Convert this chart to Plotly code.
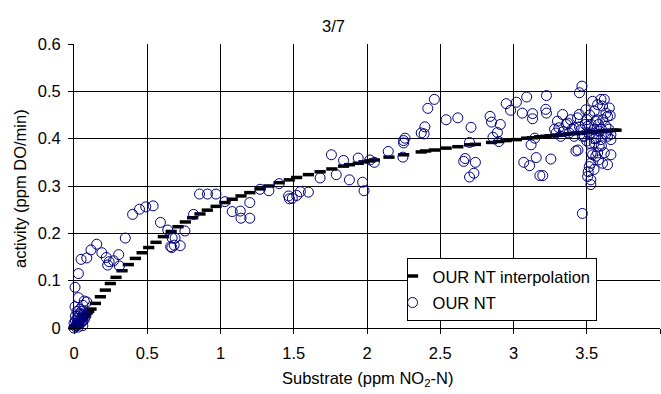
import plotly.graph_objects as go

# Measured data "OUR NT" (substrate ppm NO2-N, activity ppm DO/min)
our_x = [
    0.00, 0.01, 0.02, 0.03, 0.04, 0.05, 0.06, 0.07, 0.01, 0.02, 0.03, 0.04, 0.05,
    0.06, 0.00, 0.02, 0.04, 0.06, 0.08, 0.01, 0.03, 0.05, 0.07, 0.02, 0.04,
    0.007, 0.03, 0.07, 0.087, 0.06, 0.007, 0.03,
    0.048, 0.087, 0.116, 0.155, 0.19, 0.22, 0.24, 0.27, 0.23, 0.305, 0.31, 0.35,
    0.40, 0.447, 0.49, 0.54, 0.59, 0.64, 0.67, 0.66,
    0.69, 0.684, 0.725, 0.668, 0.757, 0.816, 0.857, 0.911, 0.969, 1.03,
    1.08, 1.135, 1.14, 1.20, 1.20, 1.27, 1.33, 1.40,
    1.465, 1.47, 1.52, 1.545, 1.60, 1.49, 1.68, 1.757, 1.84, 1.79, 1.88, 1.94,
    1.97, 1.98, 2.02, 2.05, 2.145, 2.245, 2.25, 2.26, 2.25, 2.37,
    2.46, 2.415, 2.395, 2.39, 2.54, 2.62, 2.71, 2.70, 2.67, 2.66, 2.74, 2.73, 2.70,
    2.84, 2.85, 2.91, 2.89, 2.86, 2.90, 2.95, 2.98, 3.02, 3.09, 3.06, 3.13, 3.13,
    3.145, 3.12, 3.07, 3.11, 3.155, 3.18,
    3.467, 3.45, 3.225, 3.22, 3.225, 3.255, 3.20, 3.47, 3.426, 3.44,
    3.30, 3.335, 3.29, 3.323, 3.31, 3.37, 3.38, 3.414, 3.437, 3.448, 3.414, 3.46,
    3.494, 3.506, 3.517, 3.54, 3.551, 3.562, 3.574, 3.585, 3.597, 3.608, 3.62,
    3.631, 3.642, 3.654, 3.66, 3.665, 3.642, 3.597, 3.562, 3.528, 3.551, 3.585,
    3.574, 3.54, 3.562, 3.62, 3.665, 3.608, 3.642, 3.528, 3.517, 3.506, 3.528,
    3.528, 3.483, 3.665, 3.631,
    3.28, 3.34, 3.36, 3.39, 3.40, 3.45, 3.47, 3.49, 3.50, 3.52, 3.53, 3.55, 3.57,
    3.58, 3.60, 3.61, 3.63, 3.65, 3.55, 3.52, 3.50, 3.53, 3.60, 3.58, 3.55, 3.51,
]
our_y = [
    0.000, 0.003, 0.005, 0.008, 0.010, 0.012, 0.015, 0.018, 0.015, 0.020, 0.025,
    0.030, 0.022, 0.028, 0.010, 0.010, 0.018, 0.005, 0.025, 0.025, 0.002, 0.035,
    0.032, 0.035, 0.040,
    0.086, 0.064, 0.057, 0.055, 0.048, 0.045, 0.115,
    0.145, 0.148, 0.165, 0.177, 0.159, 0.149, 0.140, 0.142, 0.133, 0.155, 0.131,
    0.190, 0.240, 0.251, 0.256, 0.258, 0.223, 0.207, 0.190, 0.172,
    0.190, 0.175, 0.174, 0.170, 0.205, 0.240, 0.283, 0.283, 0.283, 0.267,
    0.246, 0.247, 0.232, 0.232, 0.265, 0.293, 0.290, 0.305,
    0.279, 0.273, 0.280, 0.288, 0.287, 0.274, 0.317, 0.366, 0.354, 0.324, 0.313,
    0.359, 0.308, 0.290, 0.355, 0.350, 0.373, 0.361, 0.396, 0.401, 0.391, 0.412,
    0.483, 0.464, 0.425, 0.410, 0.440, 0.444, 0.424, 0.392, 0.358, 0.352, 0.350,
    0.327, 0.319,
    0.447, 0.435, 0.430, 0.413, 0.403, 0.394, 0.474, 0.460, 0.477, 0.488, 0.454,
    0.453, 0.442, 0.401, 0.387, 0.350, 0.343, 0.360, 0.322,
    0.511, 0.497, 0.491, 0.462, 0.454, 0.357, 0.322, 0.242, 0.374, 0.376,
    0.437, 0.451, 0.412, 0.405, 0.423, 0.433, 0.412, 0.423, 0.444, 0.451, 0.405,
    0.419, 0.461, 0.426, 0.409, 0.479, 0.458, 0.437, 0.472, 0.416, 0.483, 0.469,
    0.483, 0.454, 0.447, 0.465, 0.449, 0.409, 0.405, 0.398, 0.401, 0.412, 0.391,
    0.384, 0.370, 0.366, 0.363, 0.370, 0.366, 0.348, 0.345, 0.348, 0.341, 0.320,
    0.313, 0.303, 0.405, 0.398, 0.426,
    0.420, 0.415, 0.430, 0.440, 0.420, 0.425, 0.405, 0.430, 0.440, 0.450, 0.430,
    0.420, 0.440, 0.430, 0.420, 0.440, 0.410, 0.420, 0.400, 0.390, 0.395, 0.370,
    0.385, 0.355, 0.335, 0.330,
]

# "OUR NT interpolation" curve
interp_x = [
    0.00, 0.01, 0.02, 0.03, 0.04, 0.05, 0.06, 0.07, 0.08, 0.09, 0.10, 0.116,
    0.146, 0.18, 0.214, 0.248, 0.287, 0.328, 0.371, 0.419, 0.465, 0.51, 0.56,
    0.61, 0.663, 0.71, 0.76, 0.81, 0.86, 0.91, 0.97, 1.03, 1.08, 1.14, 1.20,
    1.27, 1.33, 1.40, 1.47, 1.52, 1.60, 1.68, 1.76, 1.84, 1.88, 1.94, 1.98,
    2.02, 2.05, 2.15, 2.25, 2.37, 2.40, 2.46, 2.54, 2.62, 2.70, 2.74, 2.85,
    2.90, 2.95, 3.02, 3.09, 3.13, 3.18, 3.22, 3.25, 3.29, 3.32, 3.35, 3.38,
    3.41, 3.44, 3.46, 3.48, 3.50, 3.52, 3.54, 3.56, 3.58, 3.60, 3.62, 3.64,
    3.66, 3.68, 3.70,
]
interp_y = [
    0.000, 0.004, 0.007, 0.011, 0.014, 0.018, 0.021, 0.025, 0.028, 0.032, 0.035,
    0.040, 0.052, 0.066, 0.080, 0.094, 0.107, 0.121, 0.134, 0.147, 0.159, 0.170,
    0.181, 0.193, 0.204, 0.214, 0.224, 0.233, 0.241, 0.249, 0.257, 0.265, 0.272,
    0.279, 0.286, 0.294, 0.300, 0.307, 0.313, 0.318, 0.324, 0.330, 0.336, 0.342,
    0.345, 0.348, 0.351, 0.353, 0.355, 0.361, 0.366, 0.372, 0.374, 0.376, 0.380,
    0.383, 0.387, 0.388, 0.392, 0.394, 0.396, 0.398, 0.401, 0.402, 0.404, 0.405,
    0.406, 0.407, 0.408, 0.409, 0.410, 0.411, 0.411, 0.412, 0.413, 0.413, 0.414,
    0.414, 0.415, 0.415, 0.416, 0.416, 0.417, 0.417, 0.418, 0.418,
]

x_ticks = [0, 0.5, 1, 1.5, 2, 2.5, 3, 3.5, 4]
x_tick_text = ["0", "0.5", "1", "1.5", "2", "2.5", "3", "3.5", "4"]
y_ticks = [0, 0.1, 0.2, 0.3, 0.4, 0.5, 0.6]
y_tick_text = ["0", "0.1", "0.2", "0.3", "0.4", "0.5", "0.6"]

FONT = "Liberation Sans, Arial, sans-serif"
FS = 16.5

fig = go.Figure()
fig.add_trace(go.Scatter(
    x=interp_x, y=interp_y, mode="markers", name="OUR NT interpolation",
    legendgroup="a",
    marker=dict(symbol="line-ew", size=8, color="black",
                line=dict(color="black", width=3.5)),
    cliponaxis=False,
))
fig.add_trace(go.Scatter(
    x=our_x, y=our_y, mode="markers", name="OUR NT",
    legendgroup="b",
    marker=dict(symbol="circle-open", size=10, color="#000080",
                line=dict(color="#000080", width=1)),
    cliponaxis=False,
))

axis_common = dict(
    showline=True, linecolor="black", linewidth=1,
    showgrid=True, gridcolor="black", gridwidth=1,
    zeroline=False, ticks="outside", ticklen=5, tickcolor="black",
    tickfont=dict(family=FONT, size=FS, color="black"),
)
fig.update_xaxes(range=[0, 4], tickvals=x_ticks, ticktext=x_tick_text,
                 ticklabelstandoff=5, **axis_common)
fig.update_yaxes(range=[0, 0.6], tickvals=y_ticks, ticktext=y_tick_text,
                 ticklabelstandoff=4, **axis_common)

fig.update_layout(
    width=661, height=394,
    margin=dict(l=74, r=1, t=44, b=66),
    paper_bgcolor="white", plot_bgcolor="white",
    font=dict(family=FONT, size=FS, color="black"),
    showlegend=True,
    legend=dict(
        x=0.5675, y=0.247, xanchor="left", yanchor="top",
        bgcolor="white", bordercolor="black", borderwidth=1,
        font=dict(family=FONT, size=FS, color="black"),
        itemwidth=30, indentation=-15,
        traceorder="grouped", tracegroupgap=2,
    ),
    annotations=[
        dict(text="3/7", x=0.443, y=1.065, xref="paper", yref="paper",
             showarrow=False, font=dict(size=FS), xanchor="center", yanchor="middle"),
        dict(text="Substrate (ppm NO<sub>2</sub>-N)", x=0.5, y=-0.181,
             xref="paper", yref="paper", showarrow=False, font=dict(size=FS),
             xanchor="center", yanchor="middle"),
        dict(text="activity (ppm DO/min)", x=-0.092, y=0.49, xref="paper",
             yref="paper", showarrow=False, textangle=-90, font=dict(size=FS),
             xanchor="center", yanchor="middle"),
    ],
)

fig.write_html("out.html")
